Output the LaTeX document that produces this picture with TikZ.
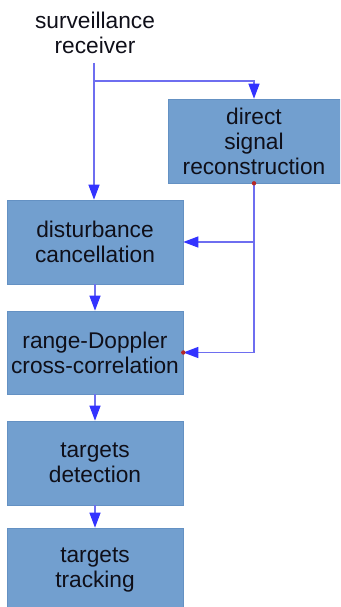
\documentclass[tikz,border=0pt]{standalone}
\usepackage{fontspec}
\setmainfont{Liberation Sans}
\usetikzlibrary{arrows.meta}
\definecolor{boxfill}{RGB}{114,159,207}
\definecolor{boxedge}{RGB}{100,145,195}
\definecolor{linecol}{RGB}{110,110,240}
\definecolor{tipcol}{RGB}{51,51,255}
\definecolor{dotcol}{RGB}{180,40,40}
\definecolor{txtcol}{RGB}{15,15,25}
\tikzset{
  blk/.style={draw=boxedge, line width=0.6pt, fill=boxfill, minimum width=176pt, minimum height=84pt,
    inner sep=0pt, align=center, text=txtcol, font=\fontsize{22.7}{25}\selectfont},
  lbl/.style={inner sep=0pt, align=center, text=txtcol, font=\fontsize{22.7}{25}\selectfont},
  conn/.style={draw=linecol, line width=1.2pt, -{Triangle[width=11pt,length=15pt,color=tipcol]}},
  plain/.style={draw=linecol, line width=1.2pt},
  rdot/.style={fill=dotcol, draw=none}
}
\begin{document}
\begin{tikzpicture}[x=1pt,y=-1pt]
\clip (0,0) rectangle (340,607);
\fill[white] (0,0) rectangle (340,607);
\node[lbl] (src) at (95,33) {surveillance\\receiver};
\node[blk, minimum width=172pt] (dsr) at (254,141) {direct\\signal\\reconstruction};
\node[blk] (dist) at (95,242) {disturbance\\cancellation};
\node[blk, minimum height=83pt] (rd) at (95,352.5) {range-Doppler\\cross-correlation};
\node[blk] (det) at (95,463) {targets\\detection};
\node[blk] (trk) at (95,570) {targets\\tracking};
\coordinate (s0) at (94,63);
\coordinate (b1) at (94,81);
\draw[conn] (s0) -- (dist.north -| s0);
\draw[conn] (b1) -| (dsr.north);
\draw[plain] (dsr.south) -- (dsr.south |- rd.east);
\draw[conn] (dsr.south |- dist.east) -- (dist.east);
\draw[conn] (dsr.south |- rd.east) -- (rd.east);
\draw[conn] (dist.south) -- (rd.north);
\draw[conn] (rd.south) -- (det.north);
\draw[conn] (det.south) -- (trk.north);
\fill[rdot] (dsr.south) circle (2.2pt);
\fill[rdot] (rd.east) circle (2.2pt);
\end{tikzpicture}
\end{document}
